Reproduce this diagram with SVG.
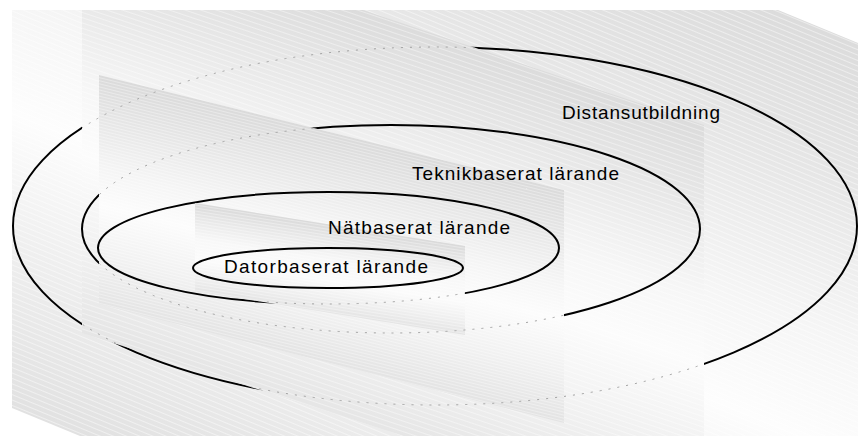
<svg xmlns="http://www.w3.org/2000/svg" width="858" height="436" viewBox="0 0 858 436">
  <defs>
    <style>
      .ring { fill: none; stroke: #000; stroke-width: 2; }
      .hidden { fill: none; stroke: #a0a0a0; stroke-width: 1; stroke-dasharray: 2 7; }
      .label { font-family: "Liberation Sans", Arial, sans-serif; font-size: 19px; fill: #000; }
    </style>
    <linearGradient id="gA" gradientUnits="userSpaceOnUse" x1="121.3" y1="-296" x2="-142.1" y2="346.9">
      <stop offset="0" stop-color="#d9d9d9"/>
      <stop offset="0.245" stop-color="#e6e6e6"/>
      <stop offset="0.46" stop-color="#f6f6f6"/>
      <stop offset="0.604" stop-color="#fdfdfd"/>
      <stop offset="0.777" stop-color="#efefef"/>
      <stop offset="1" stop-color="#e1e1e1"/>
    </linearGradient>
    <linearGradient id="gB" gradientUnits="userSpaceOnUse" x1="35.1" y1="-104.2" x2="-92.6" y2="274.8">
      <stop offset="0" stop-color="#dbdbdb"/>
      <stop offset="0.225" stop-color="#e9e9e9"/>
      <stop offset="0.425" stop-color="#f7f7f7"/>
      <stop offset="0.575" stop-color="#fcfcfc"/>
      <stop offset="0.775" stop-color="#f2f2f2"/>
      <stop offset="1" stop-color="#e5e5e5"/>
    </linearGradient>
    <linearGradient id="gC" gradientUnits="userSpaceOnUse" x1="-11.55" y1="46.6" x2="-66.2" y2="266.9">
      <stop offset="0" stop-color="#dadada"/>
      <stop offset="0.185" stop-color="#e6e6e6"/>
      <stop offset="0.405" stop-color="#f5f5f5"/>
      <stop offset="0.56" stop-color="#fcfcfc"/>
      <stop offset="0.78" stop-color="#f1f1f1"/>
      <stop offset="1" stop-color="#e3e3e3"/>
    </linearGradient>
    <linearGradient id="gD" gradientUnits="userSpaceOnUse" x1="-26.7" y1="166.9" x2="-40.6" y2="253.8">
      <stop offset="0" stop-color="#d9d9d9"/>
      <stop offset="0.18" stop-color="#e8e8e8"/>
      <stop offset="0.41" stop-color="#f8f8f8"/>
      <stop offset="0.64" stop-color="#fbfbfb"/>
      <stop offset="0.86" stop-color="#eeeeee"/>
      <stop offset="1" stop-color="#e4e4e4"/>
    </linearGradient>
    <pattern id="sA" patternUnits="userSpaceOnUse" width="10" height="5" patternTransform="rotate(22.3)">
      <rect x="0" y="0" width="10" height="1" fill="#fff" fill-opacity="0.45"/>
    </pattern>
    <pattern id="sB" patternUnits="userSpaceOnUse" width="10" height="5" patternTransform="rotate(18.6)">
      <rect x="0" y="0" width="10" height="1" fill="#fff" fill-opacity="0.4"/>
    </pattern>
    <pattern id="sC" patternUnits="userSpaceOnUse" width="10" height="3" patternTransform="rotate(13.9)">
      <rect x="0" y="0" width="10" height="1" fill="#fff" fill-opacity="0.35"/>
    </pattern>
    <pattern id="sD" patternUnits="userSpaceOnUse" width="10" height="3" patternTransform="rotate(9.1)">
      <rect x="0" y="0" width="10" height="1" fill="#fff" fill-opacity="0.35"/>
    </pattern>
    <clipPath id="clipB"><polygon points="82,10 363,10 704,125 704,436 404,436 82,333"/></clipPath>
    <clipPath id="clipC"><polygon points="99,75 564,190 564,423 99,304"/></clipPath>
    <clipPath id="clipD"><polygon points="195,203 465,246 465,335 195,291"/></clipPath>
  </defs>

  <rect x="0" y="0" width="858" height="436" fill="#fff"/>

  <g id="panel-a">
    <polygon points="12,10 778,10 858,43 858,436 80,436 12,408" fill="url(#gA)"/>
    <polygon points="12,10 778,10 858,43 858,436 80,436 12,408" fill="url(#sA)"/>
  </g>

  <g id="node-distansutbildning">
    <ellipse class="ring" cx="435" cy="226" rx="422" ry="179"/>
  </g>

  <g id="panel-b">
    <polygon points="82,10 363,10 704,125 704,436 404,436 82,333" fill="url(#gB)"/>
    <polygon points="82,10 363,10 704,125 704,436 404,436 82,333" fill="url(#sB)"/>
  </g>

  <g id="node-teknikbaserat">
    <ellipse class="ring" cx="391" cy="229" rx="309" ry="104"/>
  </g>

  <g id="panel-c">
    <polygon points="99,75 564,190 564,423 99,304" fill="url(#gC)"/>
    <polygon points="99,75 564,190 564,423 99,304" fill="url(#sC)"/>
  </g>

  <g id="node-natbaserat">
    <ellipse class="ring" cx="328.5" cy="248" rx="230.5" ry="56"/>
  </g>

  <g id="panel-d">
    <polygon points="195,203 465,246 465,335 195,291" fill="url(#gD)"/>
    <polygon points="195,203 465,246 465,335 195,291" fill="url(#sD)"/>
  </g>

  <g id="hidden-outlines">
    <ellipse class="hidden" cx="435" cy="226" rx="422" ry="179" clip-path="url(#clipB)"/>
    <ellipse class="hidden" cx="391" cy="229" rx="309" ry="104" clip-path="url(#clipC)"/>
    <ellipse class="hidden" cx="328.5" cy="248" rx="230.5" ry="56" clip-path="url(#clipD)"/>
  </g>

  <g id="node-datorbaserat">
    <ellipse class="ring" cx="328" cy="268" rx="135" ry="20"/>
  </g>

  <g id="labels">
    <text id="label-distansutbildning" class="label" x="562" y="119" textLength="158" lengthAdjust="spacing">Distansutbildning</text>
    <text id="label-teknikbaserat" class="label" x="412" y="180" textLength="207" lengthAdjust="spacing">Teknikbaserat lärande</text>
    <text id="label-natbaserat" class="label" x="328" y="234" textLength="182" lengthAdjust="spacing">Nätbaserat lärande</text>
    <text id="label-datorbaserat" class="label" x="224" y="273" textLength="204" lengthAdjust="spacing">Datorbaserat lärande</text>
  </g>
</svg>
